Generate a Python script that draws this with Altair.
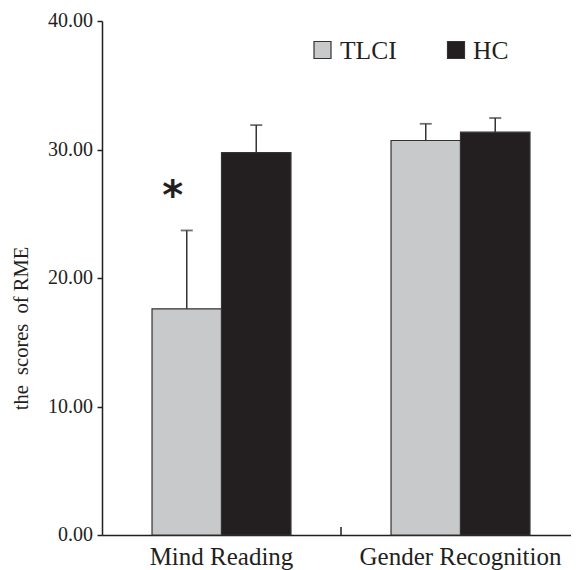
import altair as alt
import pandas as pd

categories = ["Mind Reading", "Gender Recognition"]
groups = ["TLCI", "HC"]
tlci_mean = [17.6, 30.7]
tlci_err = [6.1, 1.3]
hc_mean = [29.75, 31.35]
hc_err = [2.15, 1.1]
colors = ["#c8c9cb", "#231f20"]
y_ticks = [0, 10, 20, 30, 40]
star_cat = "Mind Reading"
star_group = "TLCI"
star_value = 26.9

rows = []
for i, c in enumerate(categories):
    rows.append({"cat": c, "group": "TLCI", "mean": tlci_mean[i], "top": tlci_mean[i] + tlci_err[i]})
    rows.append({"cat": c, "group": "HC", "mean": hc_mean[i], "top": hc_mean[i] + hc_err[i]})
df = pd.DataFrame(rows)

FONT = "Liberation Serif"
INK = "#231f20"
H = 514

xscale = alt.Scale(domain=categories, paddingInner=0, paddingOuter=0, range=[0, 478])
xoff = alt.Scale(domain=groups, paddingInner=0, paddingOuter=0.72)
yscale = alt.Scale(domain=[0, 40], nice=False)
fscale = alt.Scale(domain=groups, range=colors)

x_axis = alt.Axis(title=None, labels=False, ticks=False, domainColor=INK, domainWidth=1.5)
y_axis = alt.Axis(values=y_ticks, labels=False, grid=False, tickSize=5, tickColor=INK,
                  tickWidth=1.5, domainColor=INK, domainWidth=1.5,
                  title="the\u2002scores\u2002of RME", titleFont=FONT, titleFontSize=20.5,
                  titleFontWeight="normal", titleColor=INK, titleAngle=270,
                  titleBaseline="alphabetic", titleAlign="center", titleX=-75, titleY=307)

X = alt.X("cat:N", scale=xscale, sort=categories, axis=x_axis)
XO = alt.XOffset("group:N", scale=xoff, sort=groups)

base = alt.Chart(df)

bars = base.mark_bar(stroke="#333333", strokeWidth=1.2).encode(
    x=X, xOffset=XO,
    y=alt.Y("mean:Q", scale=yscale, axis=y_axis),
    fill=alt.Fill("group:N", sort=groups, scale=fscale, legend=None),
)

err = base.mark_rule(color="#333333", strokeWidth=1.5).encode(
    x=X, xOffset=XO, y=alt.Y("mean:Q", scale=yscale, axis=y_axis), y2="top:Q",
)

caps = base.mark_tick(color="#333333", thickness=1.8, size=12, orient="horizontal").encode(
    x=X, xOffset=XO, y=alt.Y("top:Q", scale=yscale, axis=y_axis),
)

star_df = pd.DataFrame([{"cat": star_cat, "group": star_group, "v": star_value, "t": "*"}])
star = alt.Chart(star_df).mark_text(font="DejaVu Sans", fontSize=40, fontWeight="bold",
                                    color=INK, dx=-14, dy=8, baseline="middle").encode(
    x=X, xOffset=XO, y=alt.Y("v:Q", scale=yscale, axis=y_axis), text="t:N",
)

sep_df = pd.DataFrame([{"cat": categories[1], "y0": 0, "y1": 0.62}])
sep = alt.Chart(sep_df).mark_rule(color=INK, strokeWidth=1.5).encode(
    x=alt.X("cat:N", scale=xscale, sort=categories, bandPosition=0, axis=x_axis),
    y=alt.Y("y0:Q", scale=yscale, axis=y_axis),
    y2="y1:Q",
)

# category labels under the x axis
xlab_df = pd.DataFrame({"cat": categories})
xlabels = alt.Chart(xlab_df).mark_text(font=FONT, fontSize=25, color=INK,
                                       baseline="alphabetic", align="center").encode(
    x=X, y=alt.value(H + 30), text="cat:N",
)

# y tick labels
ylab_df = pd.DataFrame({"v": y_ticks, "t": [f"{v:.2f}" for v in y_ticks]})
ylabels = alt.Chart(ylab_df).mark_text(font=FONT, fontSize=20, color=INK,
                                       baseline="middle", align="right").encode(
    x=alt.value(-9), y=alt.Y("v:Q", scale=yscale, axis=y_axis), text="t:N",
)

# legend
legend_layers = []
leg_sq_x = [220.5, 354]
leg_tx_x = [238, 371]
for i, g in enumerate(groups):
    gdf = pd.DataFrame({"group": [g]})
    legend_layers.append(
        alt.Chart(gdf).mark_square(size=289, opacity=1, stroke="#333333", strokeWidth=1.2).encode(
            x=alt.value(leg_sq_x[i]), y=alt.value(29),
            fill=alt.Fill("group:N", sort=groups, scale=fscale, legend=None),
        )
    )
    legend_layers.append(
        alt.Chart(gdf).mark_text(font=FONT, fontSize=25.5, color=INK, align="left",
                                 baseline="alphabetic").encode(
            x=alt.value(leg_tx_x[i]), y=alt.value(38), text="group:N",
        )
    )

chart = alt.layer(bars, err, caps, star, sep, xlabels, ylabels, *legend_layers).properties(
    width=469, height=H,
    autosize=alt.AutoSizeParams(type="none"),
    padding={"left": 94, "top": 13, "right": 0, "bottom": 35},
).configure_view(stroke=None)

chart.save("out.html", embed_options={"renderer": "svg", "actions": False})
